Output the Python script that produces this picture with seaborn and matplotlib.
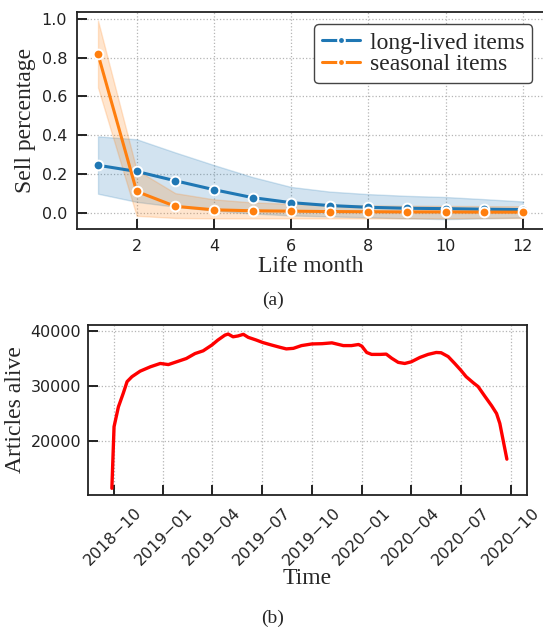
import numpy as np
import pandas as pd
import matplotlib
matplotlib.use("Agg")
import matplotlib.pyplot as plt
import matplotlib.dates as mdates
import seaborn as sns

# ---------------- data: (a) sell percentage per life month ----------------
months = list(range(1, 13))
groups = ["long-lived items", "seasonal items"]

long_mean = [0.244, 0.212, 0.164, 0.118, 0.077, 0.051, 0.036, 0.027, 0.022, 0.020, 0.017, 0.015]
long_low = [0.097, 0.055, 0.030, 0.010, -0.005, -0.015, -0.020, -0.025, -0.030, -0.034, -0.030, -0.026]
long_high = [0.393, 0.378, 0.310, 0.245, 0.183, 0.132, 0.108, 0.095, 0.086, 0.080, 0.069, 0.057]

seas_mean = [0.817, 0.109, 0.032, 0.014, 0.009, 0.007, 0.005, 0.004, 0.003, 0.003, 0.002, 0.002]
seas_low = [0.645, -0.017, -0.028, -0.030, -0.030, -0.030, -0.030, -0.030, -0.030, -0.030, -0.028, -0.028]
seas_high = [0.990, 0.220, 0.100, 0.068, 0.052, 0.045, 0.040, 0.037, 0.035, 0.034, 0.033, 0.032]

# ---------------- data: (b) articles alive over time ----------------
alive_dates = [
    "2018-09-28", "2018-10-02", "2018-10-10", "2018-10-19", "2018-10-26", "2018-11-04",
    "2018-11-19", "2018-12-08", "2018-12-26", "2019-01-10", "2019-01-25", "2019-02-12",
    "2019-02-28", "2019-03-15", "2019-03-31", "2019-04-11", "2019-04-24", "2019-04-30",
    "2019-05-09", "2019-05-18", "2019-05-28", "2019-06-06", "2019-06-21", "2019-07-03",
    "2019-07-19", "2019-08-03", "2019-08-15", "2019-08-28", "2019-09-12", "2019-10-01",
    "2019-10-20", "2019-11-07", "2019-11-28", "2019-12-13", "2019-12-26", "2020-01-01",
    "2020-01-10", "2020-01-19", "2020-02-04", "2020-02-15", "2020-02-25", "2020-03-08",
    "2020-03-20", "2020-04-01", "2020-04-17", "2020-05-02", "2020-05-17", "2020-05-26",
    "2020-06-08", "2020-06-20", "2020-07-01", "2020-07-11", "2020-07-24", "2020-08-02",
    "2020-08-14", "2020-08-27", "2020-09-05", "2020-09-11", "2020-09-17", "2020-09-24",
]
alive_counts = [
    11400, 22600, 26200, 28700, 30800, 31700,
    32700, 33500, 34100, 33900, 34400, 35000,
    35900, 36400, 37450, 38350, 39250, 39450,
    38950, 39100, 39400, 38850, 38350, 37900,
    37450, 37050, 36750, 36850, 37350, 37650,
    37700, 37850, 37350, 37350, 37550, 37250,
    36100, 35750, 35750, 35800, 35050, 34300,
    34100, 34400, 35200, 35750, 36100, 36050,
    35350, 34100, 32900, 31700, 30600, 29900,
    28200, 26400, 25000, 23200, 20200, 16700,
]
date_ticks = ["2018-10-01", "2019-01-01", "2019-04-01", "2019-07-01", "2019-10-01",
              "2020-01-01", "2020-04-01", "2020-07-01", "2020-10-01"]

# long table: low / mean / high per month so seaborn's median + 100% interval
# reproduce the line and the band
rows = []
for g, lo, mid, hi in [(groups[0], long_low, long_mean, long_high),
                       (groups[1], seas_low, seas_mean, seas_high)]:
    for m, a, b, c in zip(months, lo, mid, hi):
        for v in (a, b, c):
            rows.append({"month": m, "value": v, "group": g})
df_sell = pd.DataFrame(rows)

df_alive = pd.DataFrame({"date": pd.to_datetime(alive_dates), "count": alive_counts})

sns.set_theme(style="ticks")
plt.rcParams["font.family"] = ["DejaVu Sans"]
SERIF = ["Liberation Serif", "DejaVu Serif"]
GRID = dict(color="#b5b5b5", linestyle=":", linewidth=0.9)

fig = plt.figure(figsize=(5.43, 6.31), dpi=100)

# ---------------- (a) ----------------
ax1 = fig.add_axes([0.1414, 0.6371, 0.8606, 0.3439])
sns.lineplot(data=df_sell, x="month", y="value", hue="group", hue_order=groups,
             palette=["#1f77b4", "#ff7f0e"], estimator="median", errorbar=("pi", 100),
             marker="o", markersize=7, markeredgecolor="white", markeredgewidth=1.4,
             linewidth=2.2, ax=ax1)
ax1.set_xlim(0.45, 12.55)
ax1.set_ylim(-0.085, 1.035)
ax1.set_xticks([2, 4, 6, 8, 10, 12])
ax1.set_yticks([0.0, 0.2, 0.4, 0.6, 0.8, 1.0])
ax1.set_xlabel("Life month", family=SERIF, fontsize=17)
ax1.set_ylabel("Sell percentage", family=SERIF, fontsize=17)
ax1.xaxis.set_label_coords(0.5, -0.125)
ax1.yaxis.set_label_coords(-0.087, 0.5)
ax1.grid(True, **GRID)

leg = ax1.get_legend()
handles = leg.legend_handles
labels = [t.get_text() for t in leg.get_texts()]
ax1.legend(handles, labels, loc="upper right", prop={"family": SERIF, "size": 17},
           markerscale=0.7, handlelength=1.6, handletextpad=0.4, labelspacing=0.0,
           borderpad=0.35, framealpha=1, edgecolor="#444444", fancybox=True)

# ---------------- (b) ----------------
ax2 = fig.add_axes([0.162, 0.2155, 0.8085, 0.2694])
sns.lineplot(data=df_alive, x="date", y="count", color="red", linewidth=2.4, ax=ax2)
ax2.set_xlim(pd.Timestamp("2018-08-15"), pd.Timestamp("2020-10-31"))
ax2.set_ylim(10180, 41090)
ax2.set_yticks([20000, 30000, 40000])
ax2.set_yticklabels(["20000", "30000", "40000"])
ax2.set_xticks(pd.to_datetime(date_ticks))
ax2.xaxis.set_major_formatter(mdates.DateFormatter("%Y\u2212%m"))
ax2.set_xlabel("Time", family=SERIF, fontsize=17)
ax2.set_ylabel("Articles alive", family=SERIF, fontsize=17)
ax2.xaxis.set_label_coords(0.5, -0.43)
ax2.yaxis.set_label_coords(-0.141, 0.5)
ax2.grid(True, **GRID)

for ax in (ax1, ax2):
    ax.tick_params(direction="in", length=7, width=1.4, labelsize=11.5,
                   colors="#222222", pad=7)
    for s in ax.spines.values():
        s.set_linewidth(1.3)
        s.set_color("#222222")
ax2.tick_params(axis="y", pad=5)
plt.setp(ax2.get_xticklabels(), rotation=45, ha="center")

fig.text(0.503, 1 - 300 / 631, "(a)", ha="center", va="center", family=SERIF, fontsize=14)
fig.text(0.502, 1 - 618 / 631, "(b)", ha="center", va="center", family=SERIF, fontsize=14)

fig.savefig("out.png", dpi=100)
